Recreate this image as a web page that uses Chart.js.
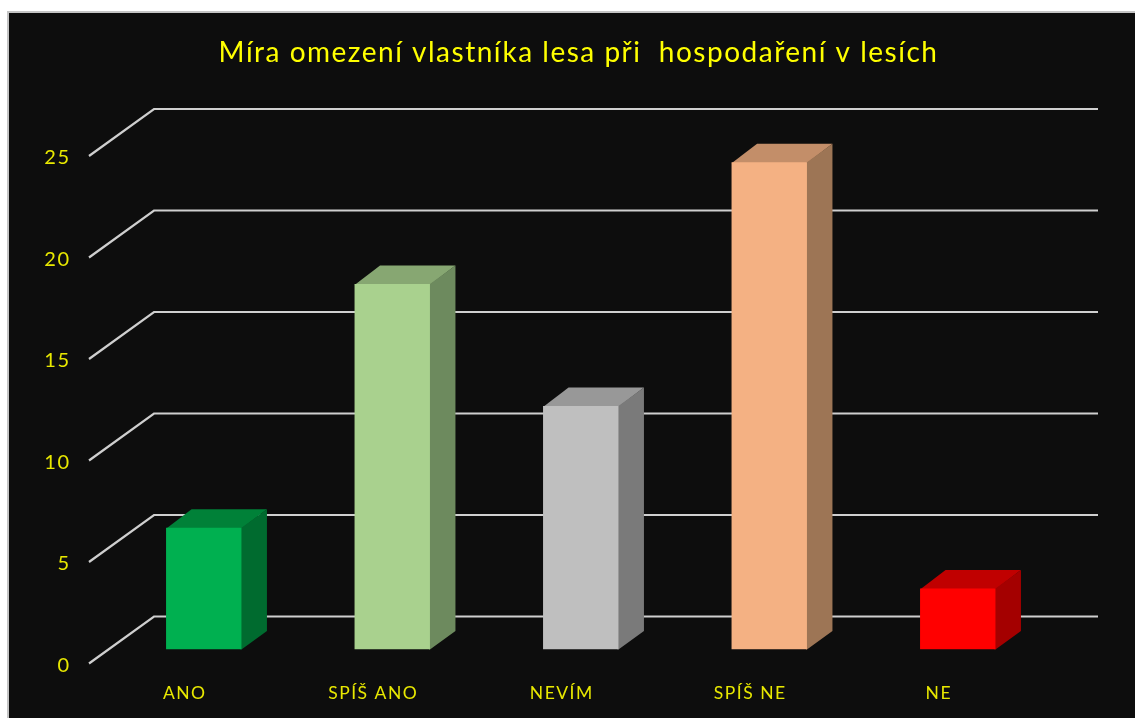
<!DOCTYPE html>
<html lang="cs">
<head>
<meta charset="utf-8">
<title>Míra omezení vlastníka lesa</title>
<style>
html,body{margin:0;padding:0;background:#fff;width:1135px;height:718px;overflow:hidden}
#frame{position:absolute;left:7px;top:11px;right:0;bottom:0;background:#0d0d0d;border-left:2px solid #c4c4c4;border-top:2px solid #c4c4c4}
canvas{position:absolute;left:0;top:0}
</style>
<script src="https://cdn.jsdelivr.net/npm/chart.js@4/dist/chart.umd.min.js"></script>
</head>
<body>
<div id="frame"></div>
<canvas id="c" width="1135" height="718"></canvas>
<script>
const titleText = "Míra omezení vlastníka lesa při  hospodaření v lesích";
const categories = ["ANO", "SPÍŠ ANO", "NEVÍM", "SPÍŠ NE", "NE"];
const values = [6, 18, 12, 24, 3];
const barColors = ["#00b050", "#a9d18e", "#bfbfbf", "#f4b183", "#ff0000"];
const topColors = ["#008138", "#87a772", "#989898", "#c38e69", "#c00000"];
const sideColors = ["#006b2f", "#6d8a5e", "#7a7a7a", "#9d7555", "#a40000"];
const textColor = "#e8e800";
const fontFamily = "Lato, Carlito, 'Open Sans', sans-serif";

const depth3d = {
  id: "depth3d",
  beforeDraw(chart) {
    chart.ctx.letterSpacing = "1.5px";
  },
  beforeDatasetsDraw(chart) {
    const { ctx, scales: { y } } = chart;
    const dx = 25.5, dy = 18.5;
    ctx.save();
    ctx.strokeStyle = "#cfcfcf";
    ctx.lineWidth = 2.2;
    ctx.lineJoin = "miter";
    y.ticks.forEach(t => {
      const p = y.getPixelForValue(t.value);
      ctx.beginPath();
      ctx.moveTo(89, p + 14);
      ctx.lineTo(154, p - 33);
      ctx.lineTo(1098, p - 33);
      ctx.stroke();
    });
    chart.getDatasetMeta(0).data.forEach((b, i) => {
      const l = b.x - b.width / 2, r = b.x + b.width / 2, t = b.y, bt = b.base;
      ctx.fillStyle = topColors[i];
      ctx.beginPath();
      ctx.moveTo(l, t + 1); ctx.lineTo(l + dx, t - dy); ctx.lineTo(r + dx, t - dy); ctx.lineTo(r, t + 1);
      ctx.closePath(); ctx.fill();
      ctx.fillStyle = sideColors[i];
      ctx.beginPath();
      ctx.moveTo(r - 1, t); ctx.lineTo(r, t); ctx.lineTo(r + dx, t - dy); ctx.lineTo(r + dx, bt - dy); ctx.lineTo(r, bt); ctx.lineTo(r - 1, bt);
      ctx.closePath(); ctx.fill();
    });
    ctx.restore();
  }
};

new Chart(document.getElementById("c"), {
  type: "bar",
  data: {
    labels: categories,
    datasets: [{
      data: values,
      backgroundColor: barColors,
      barPercentage: 0.4,
      categoryPercentage: 1
    }]
  },
  options: {
    responsive: false,
    animation: false,
    layout: { padding: { left: 22, right: 0, top: 0, bottom: 0 } },
    plugins: {
      legend: { display: false },
      tooltip: { enabled: false },
      title: {
        display: true,
        text: titleText,
        color: "#ffff00",
        font: { family: fontFamily, size: 28, weight: "normal" },
        padding: { top: 36, bottom: 72.4 }
      }
    },
    scales: {
      x: {
        grid: { display: false, drawTicks: false },
        border: { display: false },
        afterFit(s) { s.height = 68.5; },
        ticks: {
          color: textColor,
          font: { family: fontFamily, size: 17.5 },
          autoSkip: false, maxRotation: 0, minRotation: 0,
          labelOffset: -19,
          padding: 33
        }
      },
      y: {
        min: 0, max: 25,
        grid: { display: false, drawTicks: false },
        border: { display: false },
        afterFit(s) { s.width = 87.5; },
        ticks: {
          stepSize: 5,
          color: textColor,
          font: { family: fontFamily, size: 20 },
          labelOffset: 16,
          padding: 39
        }
      },
      rightMargin: {
        position: "right",
        display: true,
        grid: { display: false, drawTicks: false },
        border: { display: false },
        ticks: { display: false },
        afterFit(s) { s.width = 83; }
      }
    }
  },
  plugins: [depth3d]
});
</script>
</body>
</html>
